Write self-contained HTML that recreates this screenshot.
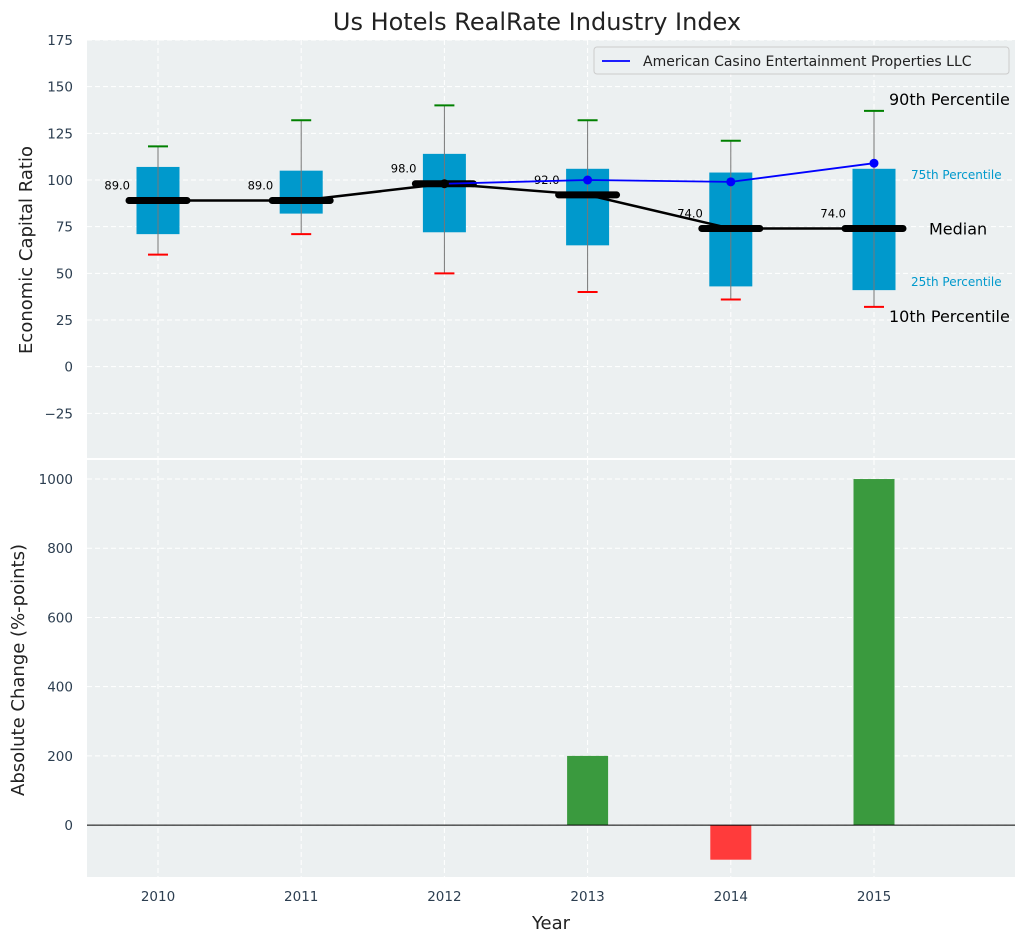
<!DOCTYPE html>
<html><head><meta charset="utf-8"><style>
body{margin:0;background:#fff}
svg{font-family:"DejaVu Sans","Liberation Sans",sans-serif}
</style></head><body>
<svg id="c" width="1026" height="942" xmlns="http://www.w3.org/2000/svg"></svg>
<script>
const years=[2010,2011,2012,2013,2014,2015];
const p10=[60,71,50,40,36,32];
const p25=[71,82,72,65,43,41];
const med=[89,89,98,92,74,74];
const p75=[107,105,114,106,104,106];
const p90=[118,132,140,132,121,137];
const compYears=[2012,2013,2014,2015];
const compVals=[98,100,99,109];
const changes=[0,0,0,200,-100,1000];
const topTicks=[-25,0,25,50,75,100,125,150,175];
const botTicks=[0,200,400,600,800,1000];

const S=document.getElementById('c'),NS='http://www.w3.org/2000/svg';
function el(t,a,txt,name,parent){const e=document.createElementNS(NS,t);for(const k in a)e.setAttribute(k,a[k]);if(txt!==undefined)e.textContent=txt;


(parent||S).appendChild(e);return e;}
const L=87,R=1015;
const x=v=>158+(v-2010)*143.2;
const yT=v=>460-(v+50)/225*420;
const yB=v=>877-(v+150)/1205*417;
el('rect',{x:L,y:40,width:R-L,height:418,fill:'#ecf0f1'},undefined,'top-plot-bg');
el('rect',{x:L,y:460,width:R-L,height:417,fill:'#ecf0f1'},undefined,'bottom-plot-bg');
years.forEach(yr=>{el('line',{x1:x(yr),x2:x(yr),y1:40,y2:458,stroke:'#fff','stroke-dasharray':'5,3'},undefined,'top-x-grid');
el('line',{x1:x(yr),x2:x(yr),y1:460,y2:877,stroke:'#fff','stroke-dasharray':'5,3'},undefined,'bottom-x-grid');
el('text',{x:x(yr),y:901,'text-anchor':'middle','font-size':13.5,fill:'#2c3e50'},yr,'x-tick-label');});
topTicks.forEach(t=>{el('line',{x1:L,x2:R,y1:yT(t),y2:yT(t),stroke:'#fff','stroke-dasharray':'5,3'},undefined,'top-y-grid');
el('text',{x:73,y:yT(t)+5,'text-anchor':'end','font-size':13.5,fill:'#2c3e50'},t<0?'\u2212'+(-t):t,'top-y-tick-label');});
botTicks.forEach(t=>{el('line',{x1:L,x2:R,y1:yB(t),y2:yB(t),stroke:'#fff','stroke-dasharray':'5,3'},undefined,'bottom-y-grid');
el('text',{x:73,y:yB(t)+5,'text-anchor':'end','font-size':13.5,fill:'#2c3e50'},t,'bottom-y-tick-label');});
const bw=43;
years.forEach((yr,i)=>{const cx=x(yr);
el('rect',{x:cx-bw/2,y:yT(p75[i]),width:bw,height:yT(p25[i])-yT(p75[i]),fill:'#0099cc'},undefined,'box-'+yr);
el('line',{x1:cx,x2:cx,y1:yT(p10[i]),y2:yT(p90[i]),stroke:'#777','stroke-width':1},undefined,'whisker-'+yr);
el('line',{x1:cx-10,x2:cx+10,y1:yT(p90[i]),y2:yT(p90[i]),stroke:'green','stroke-width':2},undefined,'p90-cap-'+yr);
el('line',{x1:cx-10,x2:cx+10,y1:yT(p10[i]),y2:yT(p10[i]),stroke:'red','stroke-width':2},undefined,'p10-cap-'+yr);});
el('polyline',{points:years.map((yr,i)=>x(yr)+','+yT(med[i])).join(' '),fill:'none',stroke:'#000','stroke-width':2.5},undefined,'median-line');
years.forEach((yr,i)=>{const cx=x(yr);
el('line',{x1:cx-29,x2:cx+29,y1:yT(med[i]),y2:yT(med[i]),stroke:'#000','stroke-width':7,'stroke-linecap':'round'},undefined,'median-bar-'+yr);
el('text',{x:cx-28,y:yT(med[i])-11,'text-anchor':'end','font-size':11.5,fill:'#000'},med[i].toFixed(1),'median-label-'+yr);});
el('polyline',{points:compYears.map((yr,i)=>x(yr)+','+yT(compVals[i])).join(' '),fill:'none',stroke:'blue','stroke-width':1.8},undefined,'company-line');
compYears.forEach((yr,i)=>el('circle',{cx:x(yr),cy:yT(compVals[i]),r:4.5,fill:i==0?'#000':'blue'},undefined,'company-point-'+yr));
const ax=x(2015);
el('text',{x:ax+15,y:yT(p90[5])-6,'font-size':16,fill:'#000'},'90th Percentile','annotation-p90');
el('text',{x:ax+37,y:yT(p75[5])+10,'font-size':12,fill:'#0099cc'},'75th Percentile','annotation-p75');
el('text',{x:ax+55,y:yT(med[5])+6,'font-size':16,fill:'#000'},'Median','annotation-median');
el('text',{x:ax+37,y:yT(p25[5])-4,'font-size':12,fill:'#0099cc'},'25th Percentile','annotation-p25');
el('text',{x:ax+15,y:yT(p10[5])+15,'font-size':16,fill:'#000'},'10th Percentile','annotation-p10');
el('rect',{x:594,y:47,width:415,height:27,fill:'#ecf0f1',stroke:'#ccc',rx:3},undefined,'legend-box');
el('line',{x1:602,x2:630,y1:61,y2:61,stroke:'blue','stroke-width':1.8},undefined,'legend-swatch');
el('text',{x:643,y:66,'font-size':14,fill:'#222'},'American Casino Entertainment Properties LLC','legend-label');
const barw=41;
years.forEach((yr,i)=>{if(!changes[i])return;const v=changes[i];
el('rect',{x:x(yr)-barw/2,y:Math.min(yB(v),yB(0)),width:barw,height:Math.abs(yB(v)-yB(0)),fill:v>0?'#3a9a3e':'#ff3b3b'},undefined,'change-bar-'+yr);});
el('line',{x1:L,x2:R,y1:yB(0),y2:yB(0),stroke:'#000','stroke-width':1},undefined,'zero-line');
el('text',{x:537,y:30,'text-anchor':'middle','font-size':24,fill:'#222'},'Us Hotels RealRate Industry Index','chart-title');
el('text',{x:32,y:250,'text-anchor':'middle','font-size':18,fill:'#222',transform:'rotate(-90 32 250)'},'Economic Capital Ratio','top-y-axis-title');
el('text',{x:24,y:670,'text-anchor':'middle','font-size':18,fill:'#222',transform:'rotate(-90 24 670)'},'Absolute Change (%-points)','bottom-y-axis-title');
el('text',{x:551,y:929,'text-anchor':'middle','font-size':18,fill:'#222'},'Year','x-axis-title');
</script>
</body></html>
